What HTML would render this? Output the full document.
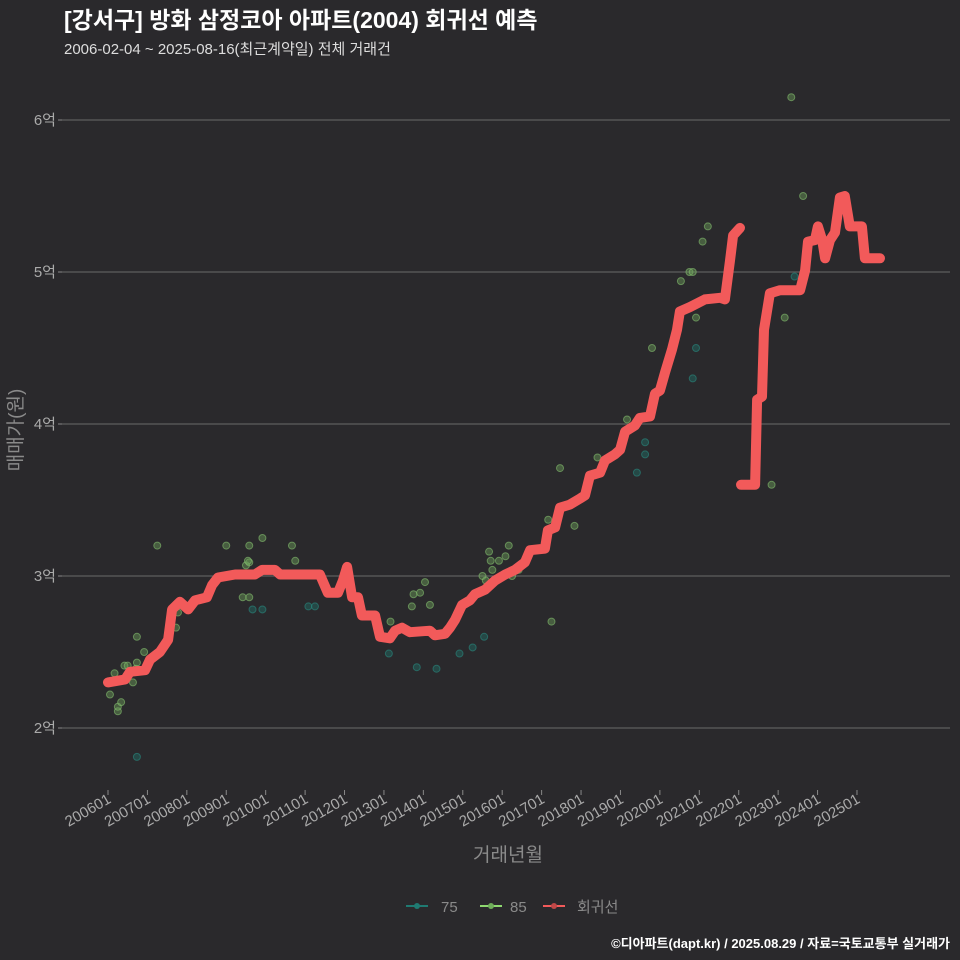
<!DOCTYPE html>
<html><head><meta charset="utf-8">
<style>
body{margin:0;background:#2a292c;}
svg{display:block;font-family:"Liberation Sans","Noto Sans CJK KR",sans-serif;}
</style></head>
<body>
<svg id="chart" width="960" height="960" xmlns="http://www.w3.org/2000/svg">
<rect width="960" height="960" fill="#2a292c"/>
<text x="64" y="28" fill="#ffffff" font-size="23" font-weight="bold">[강서구] 방화 삼정코아 아파트(2004) 회귀선 예측</text>
<text x="64" y="54" fill="#dddddd" font-size="15">2006-02-04 ~ 2025-08-16(최근계약일) 전체 거래건</text>
<g id="grid"></g>
<g id="pts"></g>
<g id="lines"></g>
<g id="xaxis"></g>
<text transform="translate(22,430) rotate(-90)" text-anchor="middle" fill="#8a8a8a" font-size="19">매매가(원)</text>
<text x="508" y="861" text-anchor="middle" fill="#8a8a8a" font-size="19">거래년월</text>
<g>
<g><line x1="406" y1="906" x2="428" y2="906" stroke="#1f7a72" stroke-width="2"/><circle cx="417" cy="906" r="3" fill="#1f7a72"/><text x="441" y="912" fill="#8a8a8a" font-size="15">75</text></g>
<g><line x1="480" y1="906" x2="502" y2="906" stroke="#8ed870" stroke-width="2"/><circle cx="491" cy="906" r="3" fill="#6fae5a"/><text x="510" y="912" fill="#8a8a8a" font-size="15">85</text></g>
<g><line x1="543" y1="906" x2="565" y2="906" stroke="#f25a5a" stroke-width="2"/><circle cx="554" cy="906" r="3" fill="#c04848"/><text x="577" y="912" fill="#8a8a8a" font-size="15">회귀선</text></g>
</g>
<text x="950" y="948" text-anchor="end" fill="#ffffff" font-size="13" font-weight="bold">©디아파트(dapt.kr) / 2025.08.29 / 자료=국토교통부 실거래가</text>
</svg>
<script>
// months since 2006-01, values in 억
const yTicks=[2,3,4,5,6];
const xTickLabels=["200601","200701","200801","200901","201001","201101","201201","201301","201401","201501","201601","201701","201801","201901","202001","202101","202201","202301","202401","202501"];
const reg1Months=[0,5.2,6.7,11.3,12.8,15.8,18.3,19.5,21.9,24.4,26.5,30.1,31.7,33.5,38.7,44.7,46.9,50.8,52.4,56.9,64.5,66.9,70,71.5,72.8,74.3,76.1,77.3,81.3,82.8,85.8,87.4,89.5,91.9,98,99.5,102.6,104.1,105.6,107.8,110.2,111.7,114.8,117.8,120.9,123.9,126.9,128.5,133,133.9,136.1,137.6,140.6,143.7,145.2,146.7,149.8,151.3,154.3,155.9,157.4,160.4,161.9,165,166.5,168,169.6,171.7,173.2,174.1,177.2,181.7,186.3,187.8,189.3,190.3,192.4];
const reg1Values=[2.30,2.32,2.37,2.38,2.45,2.50,2.58,2.78,2.83,2.78,2.84,2.86,2.94,2.99,3.01,3.01,3.04,3.04,3.01,3.01,3.01,2.89,2.89,2.97,3.06,2.86,2.86,2.74,2.74,2.60,2.59,2.64,2.66,2.63,2.64,2.61,2.62,2.66,2.71,2.81,2.84,2.88,2.91,2.97,3.01,3.04,3.09,3.17,3.18,3.30,3.32,3.45,3.47,3.51,3.53,3.66,3.68,3.76,3.80,3.83,3.95,3.99,4.04,4.05,4.20,4.22,4.34,4.49,4.62,4.74,4.77,4.82,4.83,4.82,5.07,5.24,5.29];
const reg2Months=[192.7,197,197.6,199.1,199.7,201.5,204.6,210.7,212.2,213.1,215.2,216.1,217.4,218.3,219.8,221.3,222.8,224.3,225.8,229.5,230.4,235];
const reg2Values=[3.60,3.60,4.16,4.18,4.62,4.86,4.88,4.88,5.01,5.20,5.21,5.30,5.21,5.09,5.21,5.26,5.49,5.50,5.30,5.30,5.09,5.09];
const g85Months=[0.6,2,3,3,4,5,6,7.6,8.5,8.8,8.8,11,15,20.7,21.3,36,41,43,42,43,42.6,43,47,56,57,73,86,93,92.5,95,96.5,98,114,115,116,116.5,117,119,121,122,123,125,134,135,137.6,142,149,158,160,165.6,174.4,177,178,179,181,182.6,202,206,208,211.6];
const g85Values=[2.22,2.36,2.11,2.14,2.17,2.41,2.41,2.30,2.39,2.43,2.60,2.50,3.20,2.66,2.76,3.20,2.86,2.86,3.07,3.09,3.10,3.20,3.25,3.20,3.10,3.05,2.70,2.88,2.80,2.89,2.96,2.81,3.00,2.97,3.16,3.10,3.04,3.10,3.13,3.20,3.00,3.04,3.37,2.70,3.71,3.33,3.78,4.03,3.99,4.50,4.94,5.00,5.00,4.70,5.20,5.30,3.60,4.70,6.15,5.50];
const g75Months=[8.8,44,47,61,63,85.5,94,100,107,111,114.5,161,163.5,163.5,178,179,209];
const g75Values=[1.81,2.78,2.78,2.80,2.80,2.49,2.40,2.39,2.49,2.53,2.60,3.68,3.88,3.80,4.30,4.50,4.97];

const NS="http://www.w3.org/2000/svg";
function X(m){return 108+m*3.285;}
function Y(v){return 728-(v-2)*152;}
function mk(tag,attrs,parent){const e=document.createElementNS(NS,tag);for(const k in attrs)e.setAttribute(k,attrs[k]);parent.appendChild(e);return e;}
const grid=document.getElementById('grid');
yTicks.forEach(v=>{
  const l=mk('line',{x1:62,x2:950,y1:Y(v),y2:Y(v),stroke:'#5e5e5e','stroke-width':1.2},grid);
  
  
  mk('line',{x1:58,x2:62,y1:Y(v),y2:Y(v),stroke:'#888'},grid);
  const t=mk('text',{x:56,y:Y(v)+5,'text-anchor':'end',fill:'#aaaaaa','font-size':15},grid);
  t.textContent=v+'억';
  
  
});
const xa=document.getElementById('xaxis');
xTickLabels.forEach((s,i)=>{
  const x=X(i*12);
  mk('line',{x1:x,x2:x,y1:790,y2:795,stroke:'#888'},xa);
  const t=mk('text',{transform:`translate(${x+4},${802}) rotate(-30)`,'text-anchor':'end',fill:'#aaaaaa','font-size':15},xa);
  t.textContent=s;
  
  
});
const pts=document.getElementById('pts');
function dots(ms,vs,fill,stroke,name){
  ms.forEach((m,i)=>{
    const c=mk('circle',{cx:X(m),cy:Y(vs[i]),r:3.5,fill:fill,stroke:stroke,'stroke-width':1,'fill-opacity':0.45,'stroke-opacity':0.6},pts);
    
    
  });
}
dots(g75Months,g75Values,'#1f6e66','#2a8a80','point-75');
dots(g85Months,g85Values,'#6a9e58','#86c070','point-85');
const lines=document.getElementById('lines');
function path(ms,vs,name){
  const d=ms.map((m,i)=>(i?'L':'M')+X(m).toFixed(1)+','+Y(vs[i]).toFixed(1)).join('');
  const p=mk('path',{d:d,fill:'none',stroke:'#f25a5a','stroke-width':10,'stroke-linejoin':'round','stroke-linecap':'round'},lines);
  
  
}
path(reg1Months,reg1Values,'regression-line-1');
path(reg2Months,reg2Values,'regression-line-2');
</script>
</body></html>
